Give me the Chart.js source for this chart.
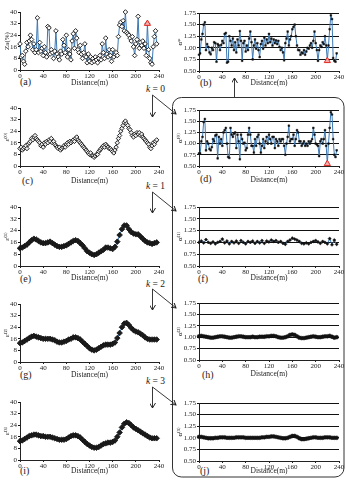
<!DOCTYPE html>
<html>
<head>
<meta charset="utf-8">
<script src="https://cdn.jsdelivr.net/npm/chart.js@4.4.1/dist/chart.umd.min.js"></script>
<style>
  html, body { margin: 0; padding: 0; background: #fff; }
  #fig { position: relative; width: 346px; height: 483px; overflow: hidden;
         font-family: "Liberation Serif", "DejaVu Serif", serif; color: #222; }
  #fig canvas { position: absolute; }
  .lab { position: absolute; font-size: 10px; line-height: 1; white-space: nowrap; }
  .kk { position: absolute; font-size: 9.5px; line-height: 1; white-space: nowrap; }
  #deco { position: absolute; left: 0; top: 0; pointer-events: none; }
</style>
</head>
<body>
<div id="fig">
  <div class="lab" style="left:20px;top:77px">(a)</div>
  <div class="lab" style="left:200px;top:78px">(b)</div>
  <div class="lab" style="left:22px;top:176px">(c)</div>
  <div class="lab" style="left:200px;top:174px">(d)</div>
  <div class="lab" style="left:20px;top:274px">(e)</div>
  <div class="lab" style="left:198px;top:274px">(f)</div>
  <div class="lab" style="left:20px;top:370px">(g)</div>
  <div class="lab" style="left:202px;top:370px">(h)</div>
  <div class="lab" style="left:20px;top:466px">(i)</div>
  <div class="lab" style="left:200px;top:466px">(j)</div>
  <div class="kk" style="left:146px;top:85px"><i>k</i> = 0</div>
  <div class="kk" style="left:146px;top:182px"><i>k</i> = 1</div>
  <div class="kk" style="left:146px;top:280px"><i>k</i> = 2</div>
  <div class="kk" style="left:146px;top:377px"><i>k</i> = 3</div>
  <svg id="deco" width="346" height="483">
    <defs>
      <marker id="ah" markerWidth="6" markerHeight="6" refX="5" refY="3" orient="auto" markerUnits="userSpaceOnUse">
        <path d="M0,0 L5,3 L0,6" fill="none" stroke="#222" stroke-width="1"/>
      </marker>
    </defs>
    <rect x="172.5" y="97.5" width="171.5" height="379.5" rx="9" fill="none" stroke="#333" stroke-width="1"/>
    <g stroke="#222" stroke-width="0.9" fill="none">
      <line x1="234.5" y1="97" x2="234.5" y2="78" marker-end="url(#ah)"/>
      <line x1="152.5" y1="95" x2="152.5" y2="117" marker-end="url(#ah)"/>
      <line x1="152.5" y1="95" x2="176" y2="114" marker-end="url(#ah)"/>
      <line x1="152.5" y1="192" x2="152.5" y2="213" marker-end="url(#ah)"/>
      <line x1="152.5" y1="192" x2="176" y2="211" marker-end="url(#ah)"/>
      <line x1="152.5" y1="289" x2="152.5" y2="310" marker-end="url(#ah)"/>
      <line x1="152.5" y1="289" x2="176" y2="308" marker-end="url(#ah)"/>
      <line x1="152.5" y1="387" x2="152.5" y2="408" marker-end="url(#ah)"/>
      <line x1="152.5" y1="387" x2="176" y2="405" marker-end="url(#ah)"/>
    </g>
  </svg>
</div>
<script>
// sampling positions along the profile (m)
const distFine = Array.from({length: 119}, (_, i) => i * 2);
const distCoarse = Array.from({length: 60}, (_, i) => i * 4);
const distTicks = [0, 40, 80, 120, 160, 200, 240];
const epsTicks = [0, 8, 16, 24, 32, 40];
const alphaTicks = [0.5, 0.75, 1.0, 1.25, 1.5, 1.75];

// (a) Za (%)
const za = [
  18, 9, 10, 6, 4, 13, 19, 16, 20, 24,
  21, 14, 18, 12, 14, 36, 12, 19, 13, 15,
  10, 16, 12, 9, 30, 29, 11, 14, 12, 8,
  13, 27, 11, 9, 7, 13, 11, 21, 17, 12,
  24, 9, 14, 11, 7, 20, 25, 15, 27, 22,
  14, 12, 17, 11, 8, 12, 18, 9, 5, 11,
  6, 9, 5, 8, 6, 9, 7, 5, 8, 10,
  7, 18, 12, 8, 22, 11, 9, 14, 10, 6,
  14, 9, 11, 12, 10, 23, 31, 33, 30, 34,
  27, 40, 26, 25, 24, 22, 20, 23, 16, 10,
  18, 21, 37, 15, 19, 17, 20, 15, 18, 10,
  32, 14, 8, 5, 4, 16, 23, 27, 18
];
// (b) alpha*
const alphaStar = [
  0.85, 0.88, 1.18, 1.30, 1.50, 1.55, 0.95, 1.08, 1.02, 0.90,
  0.86, 1.00, 0.95, 1.12, 1.10, 0.70, 1.08, 1.05, 0.95, 1.06,
  1.15, 1.10, 1.30, 1.32, 0.68, 0.70, 1.25, 1.15, 1.05, 1.20,
  0.95, 1.12, 0.90, 1.18, 1.05, 1.36, 1.15, 0.72, 1.10, 1.15,
  0.92, 1.05, 0.95, 1.20, 1.35, 1.12, 0.75, 1.05, 1.18, 0.98,
  1.10, 0.95, 0.80, 1.08, 1.15, 0.98, 1.22, 1.05, 1.18, 1.10,
  1.30, 1.12, 1.20, 1.05, 1.18, 1.10, 1.16, 1.08, 1.15, 1.02,
  0.95, 1.00, 0.90, 0.73, 1.10, 1.20, 1.35, 1.05, 1.18, 1.25,
  1.40, 1.45, 1.50, 1.25, 1.05, 0.95, 0.95, 0.85, 0.90, 0.88,
  0.95, 0.85, 0.92, 1.00, 0.98, 1.05, 1.10, 1.00, 1.15, 1.35,
  1.10, 0.95, 0.72, 0.95, 1.05, 1.02, 1.12, 1.08, 1.25, 1.05,
  0.72, 1.05, 1.40, 1.70, 1.62, 0.78, 0.72, 0.70, 0.88
];
// (c) eps(0)
const eps0 = [
  12, 13, 11, 12, 13, 14, 12, 15, 16, 17,
  19, 18, 20, 21, 19, 18, 17, 16, 14, 15,
  13, 16, 15, 17, 16, 18, 17, 19, 16, 17,
  15, 14, 13, 12, 13, 11, 12, 13, 14, 13,
  15, 16, 15, 17, 16, 17, 18, 17, 19, 20,
  18, 17, 16, 15, 14, 13, 12, 11, 10, 9,
  8, 9, 7, 7, 6, 7, 8, 8, 10, 11,
  12, 13, 14, 13, 15, 14, 13, 12, 12, 11,
  10, 9, 11, 13, 16, 19, 21, 24, 26, 28,
  30, 31, 29, 28, 26, 25, 23, 21, 20, 22,
  21, 23, 22, 23, 21, 22, 20, 19, 18, 17,
  16, 15, 13, 12, 14, 16, 15, 17, 18
];
// (d) alpha(0)
const alpha0 = [
  0.78, 0.78, 1.05, 1.15, 1.48, 1.55, 0.85, 1.05, 1.00, 0.88,
  0.85, 0.92, 1.10, 1.05, 1.18, 1.20, 0.67, 1.15, 1.00, 1.10,
  0.95, 1.25, 1.30, 1.35, 1.00, 0.70, 0.68, 1.35, 1.20, 1.15,
  1.22, 1.25, 0.90, 1.20, 1.05, 0.65, 1.20, 1.10, 1.00, 1.02,
  0.85, 0.90, 1.20, 1.35, 1.20, 0.95, 0.95, 0.80, 1.10, 0.95,
  1.15, 1.20, 1.00, 0.80, 0.95, 1.10, 0.90, 1.05, 1.15, 1.00,
  1.20, 1.10, 1.00, 1.15, 1.15, 0.90, 1.10, 1.05, 0.95, 1.10,
  1.05, 1.10, 1.10, 0.95, 0.75, 1.00, 1.15, 1.40, 1.05, 1.10,
  1.10, 1.20, 0.95, 1.10, 1.30, 1.25, 1.05, 1.05, 0.95, 1.00,
  1.05, 0.95, 1.00, 0.95, 1.05, 1.00, 1.05, 1.10, 1.35, 1.20,
  1.00, 0.98, 0.95, 0.72, 1.05, 1.10, 1.00, 1.10, 1.30, 0.95,
  0.55, 1.00, 1.35, 1.70, 1.65, 1.10, 0.75, 0.70, 0.85
];
// (e) (g) (i) eps(1..3), every 4 m
const eps1 = [
  12, 12.5, 13.5, 14.5, 16, 17.5, 18.5, 18, 17, 16,
  15.5, 15.5, 16, 16.5, 15.5, 14.5, 13.5, 13, 13, 13.5,
  14, 15, 16, 17, 17.5, 17, 15.5, 14, 12, 10,
  9, 8, 7.5, 8, 9, 10, 11, 12.5, 12.5, 12,
  11.5, 13, 16.5, 21, 25, 27.5, 27.5, 25, 23, 22,
  21.5, 21.5, 20, 18.5, 17, 16, 15.5, 15, 15.5, 16
];
const eps2 = [
  13, 13.5, 14.5, 15.5, 16.5, 17.5, 18, 17.5, 17, 16.5,
  16, 16, 16, 16, 15.5, 15, 14, 13.5, 13.5, 14,
  14.5, 15.5, 16, 17, 17, 16.5, 15.5, 14, 12.5, 11,
  9.5, 8.5, 8, 8.5, 9.5, 10.5, 11.5, 12, 12, 12,
  12.5, 13.5, 16.5, 20, 24, 26.5, 27, 25.5, 23.5, 22,
  21, 20.5, 19.5, 18.5, 17, 16, 15.5, 15.5, 15.5, 15.5
];
const eps3 = [
  13, 13.5, 14.5, 15.5, 16.5, 17, 17.5, 17.5, 17, 16.5,
  16.5, 16, 16, 16, 15.5, 15, 14.5, 14, 14, 14,
  14.5, 15.5, 16.5, 17, 17, 16.5, 15.5, 14, 12.5, 11,
  10, 9, 8.5, 8.5, 9, 10, 11, 11.5, 12, 12,
  12.5, 13.5, 16, 19, 22.5, 25, 26, 25.5, 24, 22.5,
  21.5, 20.5, 19.5, 18.5, 17.5, 16.5, 15.5, 15, 15, 15
];
// (f) (h) (j) alpha(1..3), every 4 m
const alpha1 = [
  1.00, 1.03, 0.99, 1.06, 1.00, 0.98, 1.01, 0.97, 1.00, 1.02,
  1.07, 0.99, 1.03, 0.97, 1.02, 0.99, 1.03, 0.98, 1.04, 1.00,
  0.97, 1.02, 1.00, 1.03, 0.98, 1.02, 0.99, 1.04, 0.98, 1.03,
  1.01, 1.05, 1.02, 1.04, 1.00, 1.02, 0.98, 0.96, 1.02, 1.05,
  1.09, 1.07, 1.05, 1.02, 0.98, 0.97, 0.99, 0.97, 1.00, 1.02,
  1.04, 1.01, 0.98, 1.02, 1.00, 0.97, 1.08, 0.95, 1.05, 0.96
];
const alpha2 = [
  1.02, 1.03, 1.02, 1.01, 1.00, 0.99, 0.99, 1.00, 1.01, 1.02,
  1.02, 1.01, 1.00, 0.99, 0.99, 1.00, 1.01, 1.02, 1.02, 1.01,
  1.00, 1.00, 1.00, 1.01, 1.00, 1.00, 1.01, 1.01, 1.01, 1.02,
  1.02, 1.03, 1.03, 1.02, 1.00, 0.99, 0.99, 1.00, 1.02, 1.05,
  1.06, 1.05, 1.02, 0.99, 0.98, 0.98, 0.99, 1.00, 1.01, 1.02,
  1.01, 1.00, 1.00, 1.01, 1.02, 1.02, 1.03, 1.01, 0.99, 1.00
];
const alpha3 = [
  1.02, 1.02, 1.01, 1.00, 0.99, 0.99, 0.99, 1.00, 1.00, 1.01,
  1.01, 1.01, 1.00, 1.00, 1.00, 1.00, 1.01, 1.01, 1.01, 1.01,
  1.00, 1.00, 1.00, 1.00, 1.00, 1.00, 1.00, 1.01, 1.01, 1.02,
  1.02, 1.03, 1.03, 1.02, 1.01, 1.00, 0.99, 0.99, 1.00, 1.02,
  1.04, 1.04, 1.02, 0.99, 0.97, 0.97, 0.98, 0.99, 1.00, 1.01,
  1.01, 1.00, 1.00, 1.00, 1.01, 1.01, 1.01, 1.00, 1.00, 1.00
];
// flagged sample (red triangle)
const flagDist = [220];
const flagZa = [32];
const flagAlphaStar = [0.72];
const flagAlpha0 = [0.55];

const ink = '#222';
const BLUE = '#3b78b4';
Chart.defaults.font.family = '"Liberation Serif", "DejaVu Serif", serif';
Chart.defaults.color = ink;

const pts = (xs, ys) => xs.map((x, i) => ({x: x, y: ys[i]}));

const styles = {
  openDiamond: {pointStyle: 'rectRot', pointRadius: 2.3, pointBackgroundColor: '#fff', pointBorderColor: '#111', pointBorderWidth: 0.9},
  denseDiamond: {pointStyle: 'rectRot', pointRadius: 2.2, pointBackgroundColor: '#eee', pointBorderColor: '#111', pointBorderWidth: 0.9},
  band: {pointStyle: 'rectRot', pointRadius: 2.8, pointBackgroundColor: '#1c1c1c', pointBorderColor: '#111', pointBorderWidth: 0.8},
  dots: {pointStyle: 'rect', pointRadius: 1.2, pointBackgroundColor: '#111', pointBorderColor: '#111', pointBorderWidth: 0.5},
  fineDots: {pointStyle: 'rectRot', pointRadius: 1.6, pointBackgroundColor: '#111', pointBorderColor: '#111', pointBorderWidth: 0.5},
  thinBand: {pointStyle: 'circle', pointRadius: 1.9, pointBackgroundColor: '#111', pointBorderColor: '#111', pointBorderWidth: 0.5}
};

function series(xs, ys, style) {
  return Object.assign({data: pts(xs, ys), borderColor: BLUE, borderWidth: 1, tension: 0, clip: false, order: 1}, styles[style]);
}
function flag(xs, ys) {
  return {data: pts(xs, ys), showLine: false, clip: false, order: 0, pointStyle: 'triangle', pointRadius: 3.6,
          pointBackgroundColor: '#f5a9a9', pointBorderColor: '#e02a24', pointBorderWidth: 1};
}

const sides = {
  L: {x0: 0, left: 20, right: 159, padRight: 7},
  R: {x0: 173, left: 199, right: 339, padRight: 7}
};

const panels = [
  {side: 'L', top: 12, bottom: 70, gap: 13, ytitle: 'Za(%)', datasets: [series(distFine, za, 'openDiamond'), flag(flagDist, flagZa)]},
  {side: 'L', top: 108, bottom: 166, gap: 15, ytitle: 'ε⁽⁰⁾', datasets: [series(distFine, eps0, 'denseDiamond')]},
  {side: 'L', top: 207, bottom: 266, gap: 12, ytitle: 'ε⁽¹⁾', datasets: [series(distCoarse, eps1, 'band')]},
  {side: 'L', top: 304, bottom: 362, gap: 13, ytitle: 'ε⁽²⁾', datasets: [series(distCoarse, eps2, 'band')]},
  {side: 'L', top: 402, bottom: 460, gap: 11, ytitle: 'ε⁽³⁾', datasets: [series(distCoarse, eps3, 'band')]},
  {side: 'R', top: 13, bottom: 71, gap: 12, ytitle: 'α*', datasets: [series(distFine, alphaStar, 'dots'), flag(flagDist, flagAlphaStar)]},
  {side: 'R', top: 110, bottom: 166, gap: 14, ytitle: 'α⁽⁰⁾', datasets: [series(distFine, alpha0, 'dots'), flag(flagDist, flagAlpha0)]},
  {side: 'R', top: 207, bottom: 266, gap: 12, ytitle: 'α⁽¹⁾', datasets: [series(distCoarse, alpha1, 'fineDots')]},
  {side: 'R', top: 303, bottom: 360, gap: 14, ytitle: 'α⁽²⁾', datasets: [series(distCoarse, alpha2, 'thinBand')]},
  {side: 'R', top: 403, bottom: 461, gap: 10, ytitle: 'α⁽³⁾', datasets: [series(distCoarse, alpha3, 'thinBand')]}
];

const fig = document.getElementById('fig');
const deco = document.getElementById('deco');

function makePanel(p) {
  const s = sides[p.side];
  const isR = p.side === 'R';
  const padTop = 6;
  const xh = p.gap + 5;
  const left = s.x0, top = p.top - padTop;
  const w = s.right + s.padRight - left;
  const h = Math.round(p.bottom + xh - top);
  const cv = document.createElement('canvas');
  cv.width = w; cv.height = h;
  Object.assign(cv.style, {left: left + 'px', top: top + 'px', width: w + 'px', height: h + 'px'});
  fig.insertBefore(cv, deco);

  const yTicks = isR ? alphaTicks : epsTicks;
  new Chart(cv, {
    type: 'line',
    data: {datasets: p.datasets},
    options: {
      responsive: false,
      animation: false,
      events: [],
      parsing: false,
      layout: {padding: {top: padTop, right: s.padRight, left: 0, bottom: 0}},
      plugins: {legend: {display: false}, tooltip: {enabled: false}},
      scales: {
        x: {
          type: 'linear', min: 0, max: 240,
          afterBuildTicks: a => { a.ticks = distTicks.map(v => ({value: v})); },
          afterFit: a => { a.height = xh; },
          grid: {drawOnChartArea: false, tickLength: 2, color: ink},
          border: {color: ink, width: 1},
          ticks: {font: {size: 7}, color: ink, padding: 0, maxRotation: 0, autoSkip: false},
          title: {display: true, text: 'Distance(m)', font: {size: 7.5, lineHeight: '10px'}, color: ink, padding: 0}
        },
        y: {
          type: 'linear', min: yTicks[0], max: yTicks[yTicks.length - 1],
          afterBuildTicks: a => { a.ticks = yTicks.map(v => ({value: v})); },
          afterFit: a => { a.width = s.left - left; },
          grid: {drawOnChartArea: isR, tickLength: 2, color: '#111', lineWidth: 1},
          border: {color: ink, width: 1},
          ticks: {font: {size: 7}, color: ink, padding: 1, autoSkip: false,
                  callback: v => isR ? v.toFixed(2) : String(v)},
          title: {display: true, text: p.ytitle, font: {size: 7, lineHeight: '8px'}, color: ink, padding: {top: 3, bottom: 0}}
        }
      }
    }
  });
}

panels.forEach(makePanel);
</script>
</body>
</html>
